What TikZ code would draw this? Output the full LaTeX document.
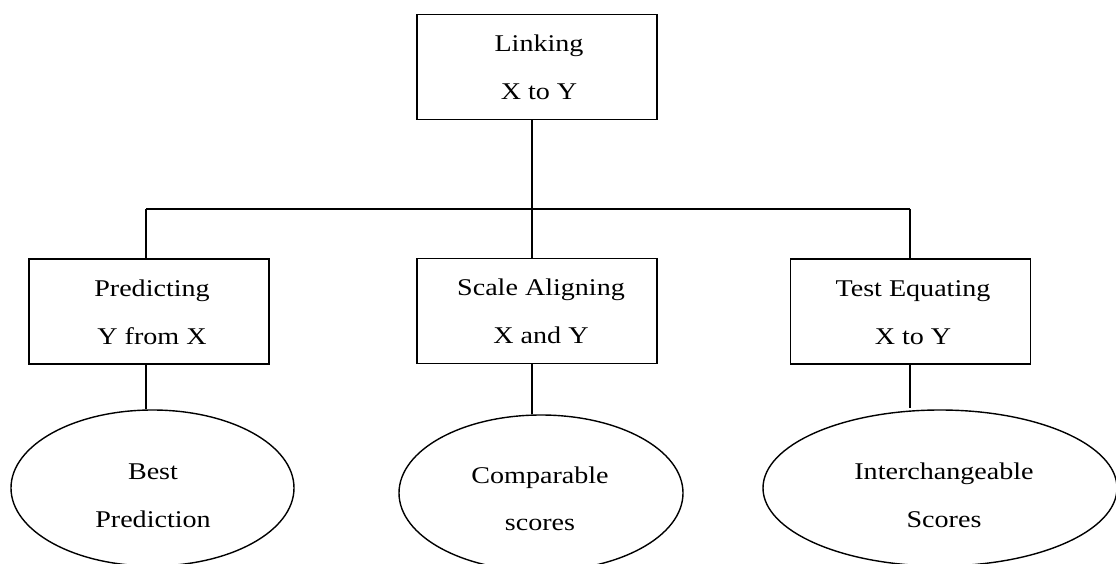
\documentclass[tikz,border=0pt]{standalone}
\usepackage{fontspec}
\setmainfont{Liberation Serif}
\usetikzlibrary{shapes.geometric}
\newcommand{\wtxt}[1]{\scalebox{1.17}[1]{#1}}
\tikzset{
  boxnode/.style={draw, rectangle, line width=1.7pt, minimum width=240pt, minimum height=105pt, inner sep=0pt},
  ovalnode/.style={draw, ellipse, line width=1.4pt, inner sep=0pt},
  txt/.style={anchor=base, inner sep=0pt, font=\fontsize{24}{28}\selectfont},
  conn/.style={line width=1.6pt}
}
\begin{document}
\begin{tikzpicture}[x=1pt,y=-1pt]
\useasboundingbox (0,0) rectangle (1116,564);
% boxes
\node[boxnode] (top) at (537,67) {};
\node[boxnode] (pred) at (149,311.5) {};
\node[boxnode] (scale) at (537,311) {};
\node[boxnode] (equate) at (910.5,311.5) {};
% ellipses
\node[ovalnode, minimum width=283pt, minimum height=156pt] (best) at (152.5,488) {};
\node[ovalnode, minimum width=284pt, minimum height=156pt] (comp) at (541,493) {};
\node[ovalnode, minimum width=354pt, minimum height=156pt] (inter) at (940,488) {};
% texts
\node[txt] (t1a) at (539,52) {\wtxt{Linking}};
\node[txt] (t1b) at (539,100) {\wtxt{X to Y}};
\node[txt] (t2a) at (152,296) {\wtxt{Predicting}};
\node[txt] (t2b) at (152,344) {\wtxt{Y from X}};
\node[txt] (t3a) at (541,295) {\wtxt{Scale Aligning}};
\node[txt] (t3b) at (541,343) {\wtxt{X and Y}};
\node[txt] (t4a) at (913,296) {\wtxt{Test Equating}};
\node[txt] (t4b) at (913,344) {\wtxt{X to Y}};
\node[txt] (t5a) at (153,479) {\wtxt{Best}};
\node[txt] (t5b) at (153,527) {\wtxt{Prediction}};
\node[txt] (t6a) at (540,483) {\wtxt{Comparable}};
\node[txt] (t6b) at (540,530) {\wtxt{scores}};
\node[txt] (t7a) at (944,479) {\wtxt{Interchangeable}};
\node[txt] (t7b) at (944,527) {\wtxt{Scores}};
% junctions
\coordinate (jL) at (146,209);
\coordinate (jM) at (532,209);
\coordinate (jR) at (910,209);
% connectors
\draw[conn] (top.south -| jM) -- (jM);
\draw[conn] (jL) -- (jR);
\draw[conn] (jL) -- (pred.north -| jL);
\draw[conn] (jM) -- (scale.north -| jM);
\draw[conn] (jR) -- (equate.north -| jR);
\draw[conn] (pred.south -| jL) -- (best.north -| jL);
\draw[conn] (scale.south -| jM) -- (comp.north -| jM);
\draw[conn] (equate.south -| jR) -- ([yshift=1pt]inter.north -| jR);
\end{tikzpicture}
\end{document}
